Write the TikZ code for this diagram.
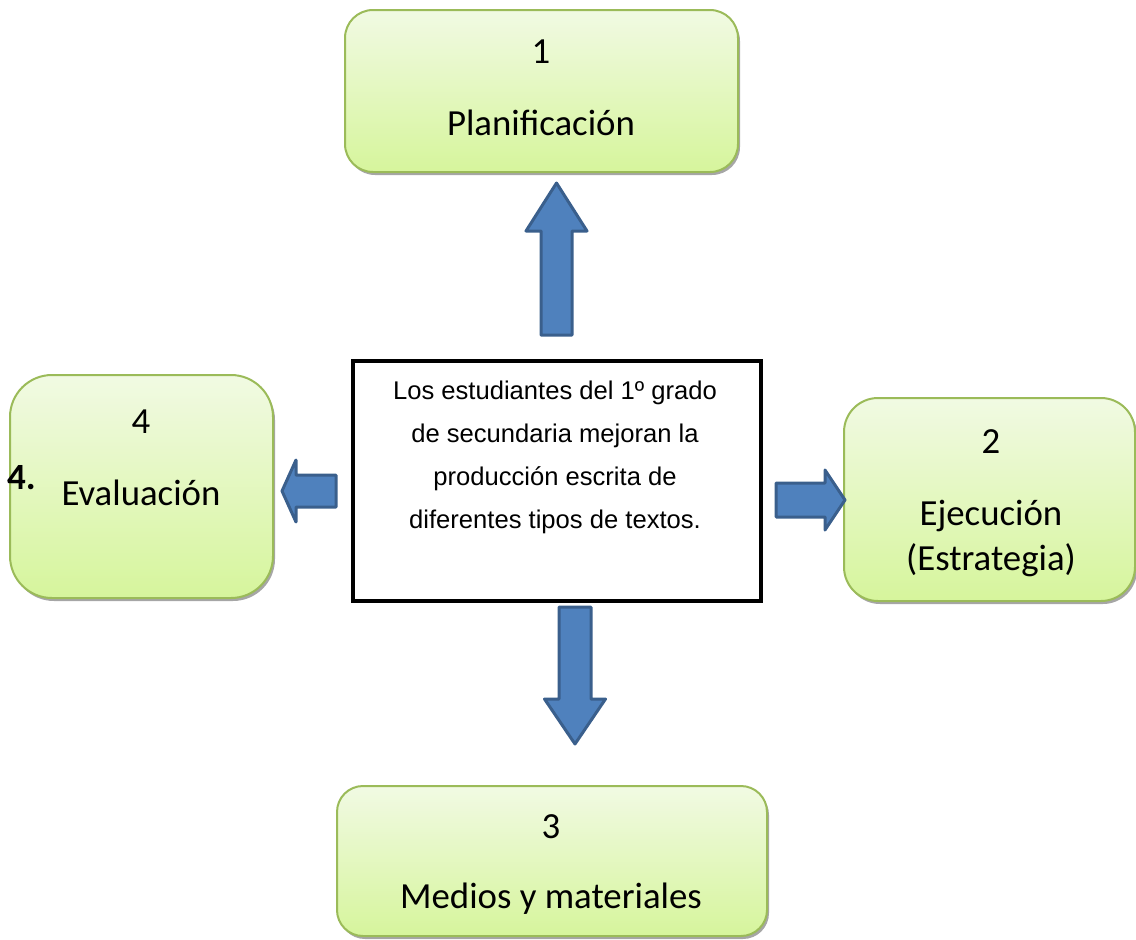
\documentclass[tikz,border=0pt]{standalone}
\usepackage{fontspec}
\setmainfont{Carlito}
\newfontfamily\arialfont{Liberation Sans}
\usetikzlibrary{calc,shadows}

\definecolor{boxtop}{HTML}{F1FAE3}
\definecolor{boxbottom}{HTML}{D6F59C}
\definecolor{boxline}{HTML}{9BBB59}
\definecolor{arrowfill}{HTML}{4F81BD}
\definecolor{arrowline}{HTML}{3A5F8C}

\tikzset{
  gbox/.style={draw=boxline, line width=2pt, top color=boxtop, bottom color=boxbottom,
    inner sep=0pt, drop shadow={shadow xshift=2pt, shadow yshift=-3pt, fill=black!35, opacity=1}},
  goalbox/.style={draw=black, line width=4pt, fill=white, inner sep=0pt},
  lbl/.style={anchor=base, inner sep=0pt, font=\fontsize{36.8}{45}\selectfont},
  goaltext/.style={anchor=north, inner sep=0pt, align=center,
    font=\arialfont\fontsize{25.6}{43}\selectfont},
  arrowbody/.style={draw=arrowline, fill=arrowfill, line width=3pt, line join=round},
  pics/blockarrow/.style args={#1/#2/#3/#4}{code={
    \draw[arrowbody] (0,-#2) -- (#1-#4,-#2) -- (#1-#4,-#3) -- (#1,0)
      -- (#1-#4,#3) -- (#1-#4,#2) -- (0,#2) -- cycle;}}
}

\begin{document}
\begin{tikzpicture}[x=1pt,y=-1pt]
  \useasboundingbox (0,0) rectangle (1136,940);

  % the four stages
  \node[gbox, rounded corners=28pt, minimum width=393pt, minimum height=162pt] (plan) at (541.5,91) {};
  \node[gbox, rounded corners=34pt, minimum width=291pt, minimum height=203pt] (ejec) at (989.5,499.5) {};
  \node[gbox, rounded corners=26pt, minimum width=430pt, minimum height=150pt] (medios) at (552,861) {};
  \node[gbox, rounded corners=42pt, minimum width=263pt, minimum height=223pt] (eval) at (141.5,486.5) {};

  \node[lbl] (plannum) at (541,63) {1};
  \node[lbl] (planname) at (541,135) {Planificación};
  \node[lbl] (ejecnum) at (991,453) {2};
  \node[lbl] (ejecname) at (991,525) {Ejecución};
  \node[lbl] (ejecsub) at (991,570) {(Estrategia)};
  \node[lbl] (mediosnum) at (551,838) {3};
  \node[lbl] (mediosname) at (551,908) {Medios y materiales};
  \node[lbl] (evalnum) at (141,433) {4};
  \node[lbl] (evalname) at (141,505) {Evaluación};
  \node[anchor=base west, inner sep=0pt, font=\fontsize{37}{44}\selectfont\bfseries] (evalmark) at (7,489) {4.};

  % the goal in the middle
  \node[goalbox, minimum width=408pt, minimum height=240pt] (goal) at (557,481) {};
  \node[goaltext] (goalname) at (555,381) {Los estudiantes del 1º grado\\de secundaria mejoran la\\producción escrita de\\diferentes tipos de textos.};

  % block arrows
  \pic[rotate=90] at ($(goal.north)+(-0.5,-24)$) {blockarrow=152/15.5/30.5/48};
  \pic[rotate=-90] at ($(goal.south)+(18,4)$) {blockarrow=137/16/30.5/45};
  \pic[rotate=180] at ($(goal.west)+(-15,10)$) {blockarrow=54/16/31/14};
  \pic at ($(goal.east)+(13,19)$) {blockarrow=69/17/30/20};
\end{tikzpicture}
\end{document}
